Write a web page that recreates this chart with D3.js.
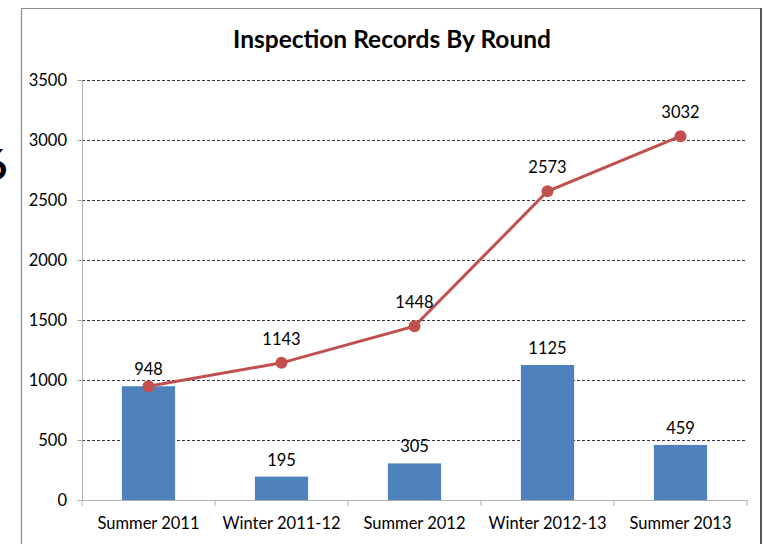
<!DOCTYPE html>
<html><head><meta charset="utf-8">
<script src="https://cdn.jsdelivr.net/npm/d3@7"></script>
<style>
html,body{margin:0;padding:0;background:#fff;}
svg{display:block;font-family:Lato,"Open Sans",sans-serif;}
</style></head>
<body><svg id="c" width="764" height="544"></svg>
<script>
const categories = ["Summer 2011","Winter 2011-12","Summer 2012","Winter 2012-13","Summer 2013"];
const barValues = [948,195,305,1125,459];
const cumulativeValues = [948,1143,1448,2573,3032];
const yTicks = [0,500,1000,1500,2000,2500,3000,3500];
const title = "Inspection Records By Round";

const svg = d3.select("#c");
const W = 764, H = 544;
const m = {left:82, right:17, top:80, bottom:44};
const x = d3.scaleBand().domain(categories).range([m.left, W - m.right]).paddingInner(0.6).paddingOuter(0.3);
const y = d3.scaleLinear().domain([0,3500]).range([H - m.bottom, m.top]);

// stray glyph at left edge
svg.append("text").attr("x",-17).attr("y",180).attr("font-size",42).attr("font-weight","bold").attr("fill","#000").text("6");

// frame
svg.append("line").attr("x1",21.5).attr("x2",21.5).attr("y1",8.5).attr("y2",H).attr("stroke","#8c8c8c").attr("stroke-width",1.2);
svg.append("line").attr("x1",21).attr("x2",761).attr("y1",8.5).attr("y2",8.5).attr("stroke","#8c8c8c").attr("stroke-width",1.2);
svg.append("line").attr("x1",761).attr("x2",761).attr("y1",8).attr("y2",H).attr("stroke","#555").attr("stroke-width",2);

// title
svg.append("text").attr("x",392).attr("y",48).attr("text-anchor","middle")
  .attr("font-size",24.5).attr("font-weight","bold").attr("fill","#000").text(title);

// gridlines
svg.append("g").selectAll("line").data(yTicks.filter(d=>d>0)).join("line")
  .attr("x1",m.left).attr("x2",W-m.right)
  .attr("y1",d=>Math.round(y(d))+0.5).attr("y2",d=>Math.round(y(d))+0.5)
  .attr("stroke","#333").attr("stroke-width",1).attr("stroke-dasharray","3,2");

// y axis
const ya = svg.append("g").attr("transform",`translate(${m.left},0)`)
  .call(d3.axisLeft(y).tickValues(yTicks).tickSize(5).tickPadding(10).tickFormat(d3.format("d")));
ya.select(".domain").attr("stroke","#b0b0b0");
ya.selectAll(".tick line").attr("stroke","#b0b0b0");
ya.selectAll("text").attr("font-size",16.5).attr("fill","#000").attr("font-family","Lato, sans-serif");

// bars
svg.append("g").selectAll("rect").data(categories).join("rect")
  .attr("x",d=>x(d)).attr("width",x.bandwidth())
  .attr("y",(d,i)=>y(barValues[i])).attr("height",(d,i)=>y(0)-y(barValues[i]))
  .attr("fill","#4F81BD");

// x axis
const xa = svg.append("g").attr("transform",`translate(0,${y(0)})`)
  .call(d3.axisBottom(x).tickSize(0).tickPadding(17));
xa.select(".domain").attr("stroke","#b0b0b0");
xa.selectAll("text").attr("font-size",16.5).attr("fill","#000").attr("font-family","Lato, sans-serif");
// category boundary ticks
const bounds = d3.range(categories.length+1).map(i => m.left + i*(W-m.right-m.left)/categories.length);
xa.selectAll(".btick").data(bounds).join("line").attr("class","btick")
  .attr("x1",d=>d).attr("x2",d=>d).attr("y1",0).attr("y2",6).attr("stroke","#b0b0b0");

// bar labels
svg.append("g").selectAll("text").data(categories).join("text")
  .attr("x",d=>x(d)+x.bandwidth()/2).attr("y",(d,i)=>y(barValues[i])-11)
  .attr("text-anchor","middle").attr("font-size",16.5).attr("fill","#000").text((d,i)=>barValues[i]);

// line
const cx = d=>x(d)+x.bandwidth()/2;
svg.append("path").datum(categories)
  .attr("d",d3.line().x(cx).y((d,i)=>y(cumulativeValues[i])))
  .attr("fill","none").attr("stroke","#C0504D").attr("stroke-width",3);
svg.append("g").selectAll("circle").data(categories).join("circle")
  .attr("cx",cx).attr("cy",(d,i)=>y(cumulativeValues[i])).attr("r",6).attr("fill","#C0504D");

// line labels (skip where same as bar value)
svg.append("g").selectAll("text").data(categories.filter((d,i)=>cumulativeValues[i]!==barValues[i])).join("text")
  .attr("x",cx).attr("y",d=>y(cumulativeValues[categories.indexOf(d)])-18)
  .attr("text-anchor","middle").attr("font-size",16.5).attr("fill","#000")
  .text(d=>cumulativeValues[categories.indexOf(d)]);
</script></body></html>
